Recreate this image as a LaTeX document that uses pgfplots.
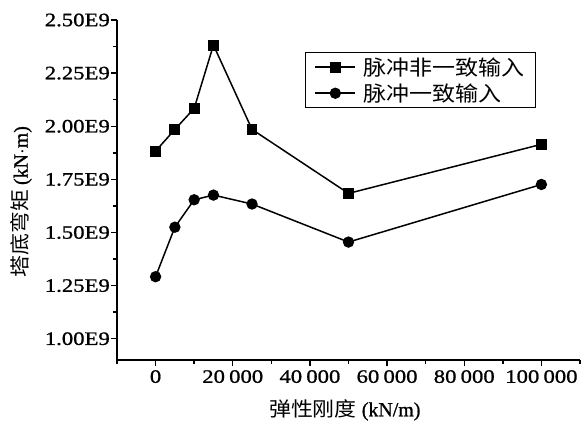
\documentclass[border=0pt]{standalone}
\usepackage{fontspec}
\setmainfont{Liberation Serif}[FakeStretch=1.2,FakeBold=1]
\newfontfamily\labfont{Liberation Serif}[FakeStretch=1.0,FakeBold=1]
\newfontfamily\cjk{Noto Sans CJK SC}[FakeStretch=1.1]
\usepackage{pgfplots}
\pgfplotsset{compat=1.18}
\begin{document}
\begin{tikzpicture}
\useasboundingbox (-117bp,-65bp) rectangle (471bp,360bp);
\begin{axis}[
  at={(0,0)}, anchor=south west,
  scale only axis, width=463bp, height=340bp,
  xmin=-10000, xmax=110000, ymin=0.9e9, ymax=2.5e9,
  axis x line*=bottom, axis y line*=left,
  axis line style={line width=1.6bp},
  tick align=outside,
  major tick length=6bp, minor tick length=4bp,
  every tick/.style={black, line width=1.4bp},
  xtick={0,20000,40000,60000,80000,100000},
  xticklabels={0,20\hspace{0.22em}000,40\hspace{0.22em}000,60\hspace{0.22em}000,80\hspace{0.22em}000,100\hspace{0.22em}000},
  minor xtick={-10000,10000,30000,50000,70000,90000,110000},
  ytick={1e9,1.25e9,1.5e9,1.75e9,2e9,2.25e9,2.5e9},
  yticklabels={1.00E9,1.25E9,1.50E9,1.75E9,2.00E9,2.25E9,2.50E9},
  minor ytick={1.125e9,1.375e9,1.625e9,1.875e9,2.125e9,2.375e9},
  scaled y ticks=false, scaled x ticks=false,
  /pgf/number format/assume math mode=true,
  tick label style={font=\fontsize{19}{22}\selectfont},
  yticklabel style={inner xsep=1bp},
  xticklabel style={inner ysep=4bp},
  xlabel={{\cjk\fontsize{20}{22}\selectfont 弹性刚度} (kN/m)},
  ylabel={{\cjk\fontsize{20}{22}\selectfont 塔底弯矩} (kN$\cdot$m)},
  label style={font=\fontsize{20}{22}\selectfont\labfont},
  xlabel style={at={(axis description cs:0.492,-0.147)}, anchor=center},
  ylabel style={at={(axis description cs:-0.207,0.465)}, anchor=center},
  legend style={at={(axis description cs:0.406,0.906)}, anchor=north west,
    draw=black, line width=1.2bp, font=\fontsize{21}{23}\selectfont\cjk,
    row sep=3bp, inner xsep=9bp, inner ysep=3bp},
  legend cell align=left,
  legend image code/.code={\draw[mark repeat=2,mark phase=2] plot coordinates {(0bp,0bp) (20bp,0bp) (40bp,0bp)};},
]
\addplot[black, line width=1.5bp, mark=square*, mark size=4.7bp, mark options={solid}] coordinates {
(0,1.883e9) (5000,1.985e9) (10000,2.084e9) (15000,2.382e9) (25000,1.985e9) (50000,1.684e9) (100000,1.915e9)};
\addlegendentry{\hspace{5bp}脉冲非一致输入}
\addplot[black, line width=1.5bp, mark=*, mark size=4.9bp, mark options={solid}] coordinates {
(0,1.292e9) (5000,1.525e9) (10000,1.654e9) (15000,1.676e9) (25000,1.634e9) (50000,1.455e9) (100000,1.726e9)};
\addlegendentry{\hspace{5bp}脉冲一致输入}
\end{axis}
\end{tikzpicture}
\end{document}
